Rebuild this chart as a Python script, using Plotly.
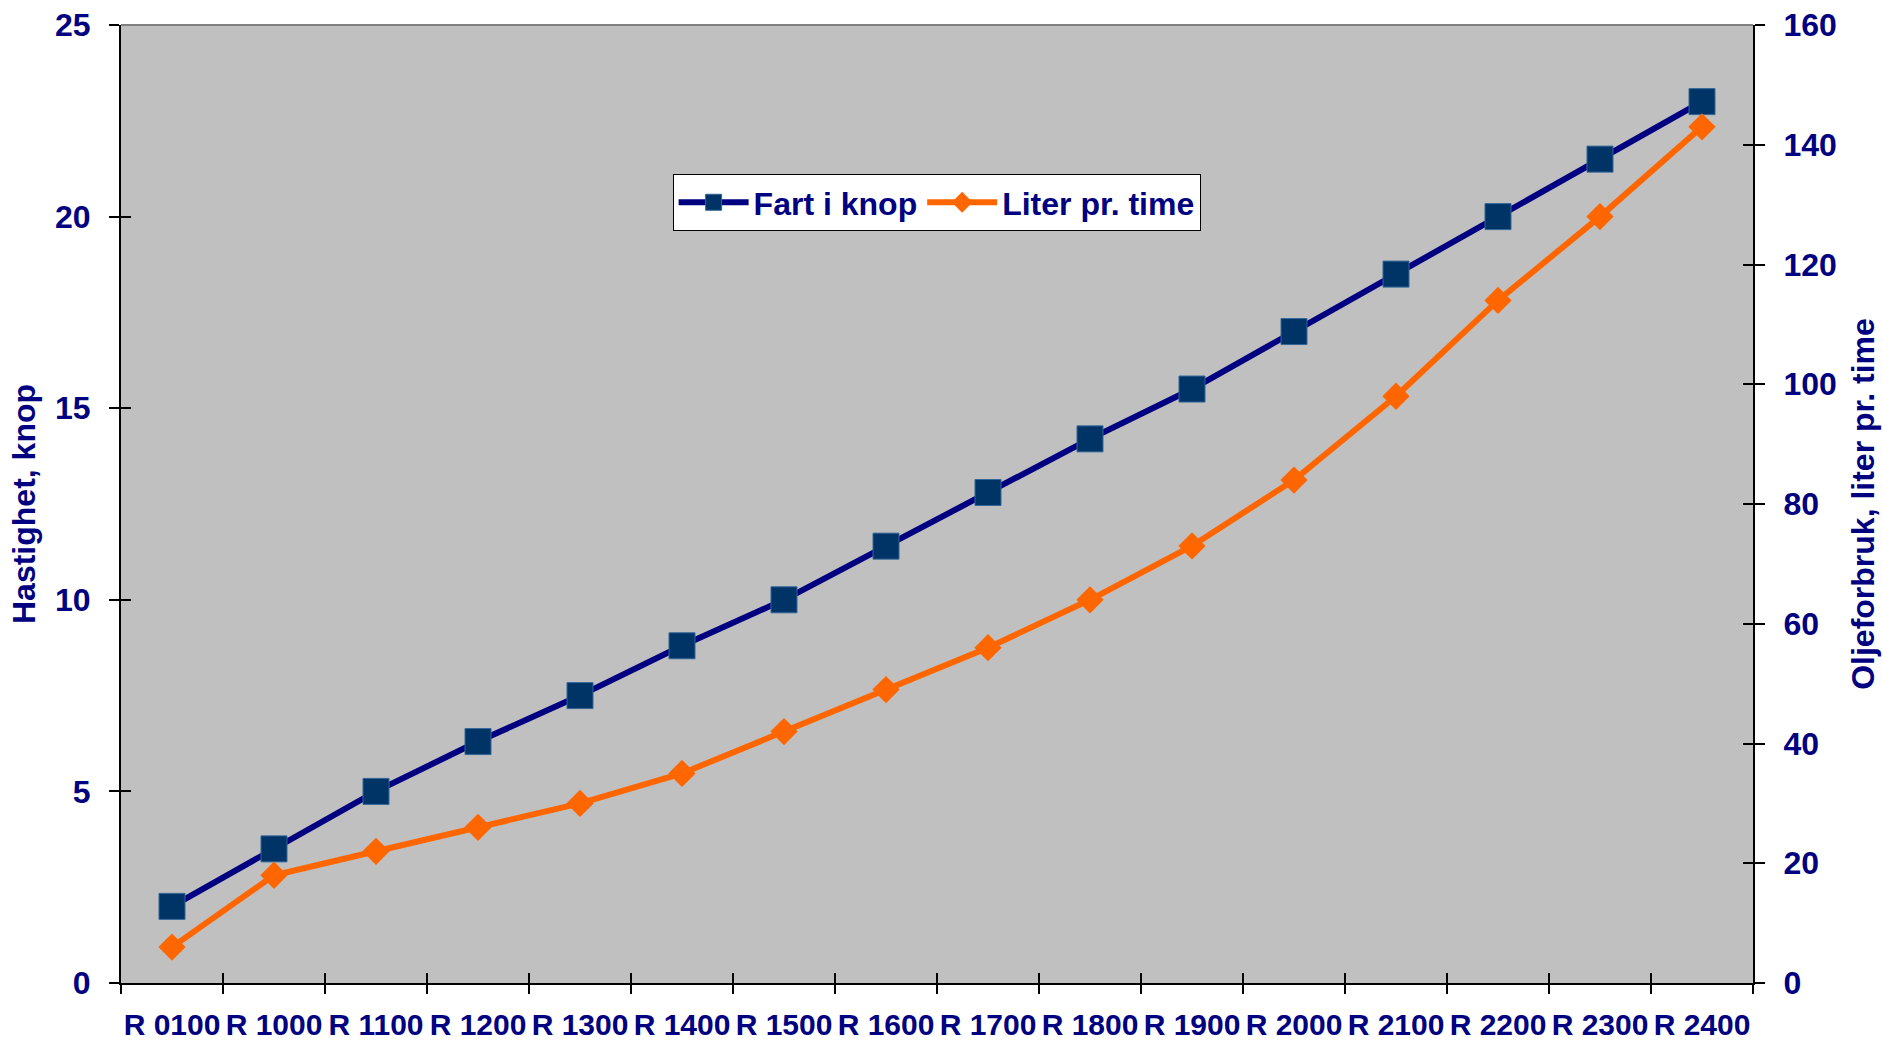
import plotly.graph_objects as go

# Engine speed settings (x categories)
turtall = ["R 0100", "R 1000", "R 1100", "R 1200", "R 1300", "R 1400", "R 1500", "R 1600",
           "R 1700", "R 1800", "R 1900", "R 2000", "R 2100", "R 2200", "R 2300", "R 2400"]

# Speed in knots (left axis)
fart_knop = [2.0, 3.5, 5.0, 6.3, 7.5, 8.8, 10.0, 11.4, 12.8, 14.2, 15.5, 17.0, 18.5, 20.0, 21.5, 23.0]

# Fuel consumption, litres per hour (right axis)
liter_time = [6, 18, 22, 26, 30, 35, 42, 49, 56, 64, 73, 84, 98, 114, 128, 143]

left_ticks = [0, 5, 10, 15, 20, 25]
right_ticks = [0, 20, 40, 60, 80, 100, 120, 140, 160]

NAVY = "#000080"
FONT = "Liberation Sans, Arial, sans-serif"

fig = go.Figure()

fig.add_trace(go.Scatter(
    x=turtall, y=fart_knop, name="Fart i knop", mode="lines+markers",
    line=dict(color=NAVY, width=6),
    marker=dict(symbol="square", size=26, color="#003366",
                line=dict(color="#336699", width=1)),
    yaxis="y",
))

fig.add_trace(go.Scatter(
    x=turtall, y=liter_time, name="Liter pr. time", mode="lines+markers",
    line=dict(color="#FF6600", width=6),
    marker=dict(symbol="diamond", size=21, color="#FF6600"),
    yaxis="y2",
))

# Empty traces so the overlay axes carrying the inner tick halves get drawn
fig.add_trace(go.Scatter(x=[], y=[], xaxis="x2", yaxis="y3", showlegend=False, hoverinfo="skip"))
fig.add_trace(go.Scatter(x=[], y=[], xaxis="x2", yaxis="y4", showlegend=False, hoverinfo="skip"))

tick_font = dict(family=FONT, size=32, color=NAVY, weight="bold")
title_font = dict(family=FONT, size=32, color=NAVY, weight="bold")

# Inside halves of the crossing tick marks
inner_tick = dict(ticks="inside", ticklen=10, tickcolor="black", tickwidth=1.5,
                  showticklabels=False, showgrid=False, zeroline=False, showline=False)

fig.update_layout(
    width=1883, height=1040,
    margin=dict(l=121, r=130, t=25, b=57, autoexpand=False),
    paper_bgcolor="white",
    plot_bgcolor="#C0C0C0",
    font=dict(family=FONT, color=NAVY),
    showlegend=True,
    legend=dict(
        orientation="h", x=0.338, y=0.8445, xanchor="left", yanchor="top",
        bgcolor="white", bordercolor="black", borderwidth=1,
        font=dict(family=FONT, size=32, color=NAVY, weight="bold"),
        itemwidth=70, tracegroupgap=0,
    ),
    xaxis=dict(
        type="category", tickson="boundaries", ticks="outside", ticklen=9,
        tickcolor="black", tickwidth=1.5, tickangle=0,
        showline=True, linecolor="black", linewidth=2,
        showgrid=False, zeroline=False,
        tickfont=dict(family=FONT, size=30, color=NAVY, weight="bold"),
        ticklabelstandoff=14,
        range=[-0.5, len(turtall) - 0.5],
    ),
    xaxis2=dict(overlaying="x", anchor="y", side="bottom", type="linear",
                range=[-0.5, len(turtall) - 0.5], tick0=-0.5, dtick=1, **inner_tick),
    yaxis=dict(
        range=[0, 25], tickvals=left_ticks, ticks="outside", ticklen=10,
        tickcolor="black", tickwidth=1.5,
        showline=True, linecolor="black", linewidth=2,
        showgrid=False, zeroline=False,
        tickfont=tick_font, ticklabelstandoff=12,
        title=dict(text="Hastighet, knop", standoff=10, font=title_font),
    ),
    yaxis2=dict(
        range=[0, 160], tickvals=right_ticks, overlaying="y", side="right",
        ticks="outside", ticklen=10, tickcolor="black", tickwidth=1.5,
        showline=True, linecolor="black", linewidth=2,
        showgrid=False, zeroline=False,
        tickfont=tick_font, ticklabelstandoff=12,
        title=dict(text="Oljeforbruk, liter pr. time", standoff=16, font=title_font),
    ),
    yaxis3=dict(overlaying="y", anchor="x", side="left", range=[0, 25],
                tickvals=left_ticks, **inner_tick),
    yaxis4=dict(overlaying="y", anchor="x", side="right", range=[0, 160],
                tickvals=right_ticks, **inner_tick),
    shapes=[dict(type="line", xref="paper", yref="paper", x0=0, x1=1, y0=1, y1=1,
                 line=dict(color="#808080", width=2))],
)

fig.write_html("out.html")
